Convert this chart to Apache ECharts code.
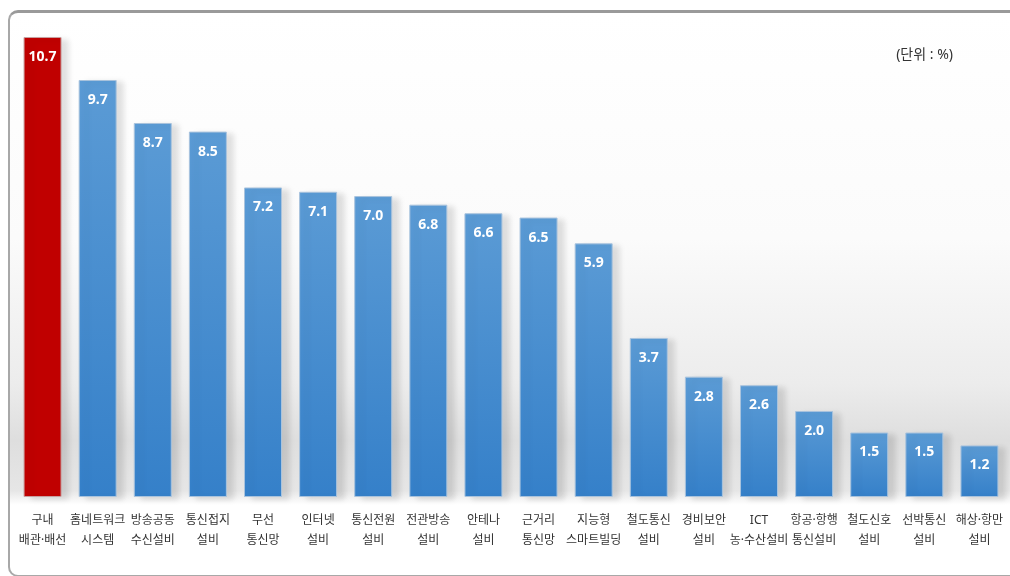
<!DOCTYPE html>
<html>
<head>
<meta charset="utf-8">
<script src="https://cdn.jsdelivr.net/npm/echarts@6/dist/echarts.min.js"></script>
<style>
  html, body { margin: 0; padding: 0; background: #fff; }
  .frame {
    position: absolute;
    left: 8px; top: 10px;
    width: 1010px; height: 562px;
    border: 2px solid #a8a8a8;
    border-top: 3px solid #9a9a9a;
    border-radius: 10px;
    background: linear-gradient(to bottom, #ffffff 0%, #fbfbfb 40%, #ececec 66%, #dedede 76%, #e6e6e6 85%, #ffffff 87.5%, #ffffff 100%);
  }
  #chart { position: absolute; left: 0; top: 0; width: 1010px; height: 576px; }
</style>
</head>
<body>
<div class="frame"></div>
<div id="chart"></div>
<script>
  // 분야별 비율 (단위 : %)
  const categories = [
    '구내\n배관·배선', '홈네트워크\n시스템', '방송공동\n수신설비', '통신접지\n설비',
    '무선\n통신망', '인터넷\n설비', '통신전원\n설비', '전관방송\n설비',
    '안테나\n설비', '근거리\n통신망', '지능형\n스마트빌딩', '철도통신\n설비',
    '경비보안\n설비', 'ICT\n농·수산설비', '항공·항행\n통신설비', '철도신호\n설비',
    '선박통신\n설비', '해상·항만\n설비'
  ];
  const values = [10.7, 9.7, 8.7, 8.5, 7.2, 7.1, 7.0, 6.8, 6.6, 6.5, 5.9, 3.7, 2.8, 2.6, 2.0, 1.5, 1.5, 1.2];
  const highlightIndex = 0;

  const blue = new echarts.graphic.LinearGradient(0, 0, 0, 1, [
    { offset: 0, color: '#5b9bd5' },
    { offset: 1, color: '#3580c9' }
  ]);

  const chart = echarts.init(document.getElementById('chart'));
  chart.setOption({
    animation: false,
    grid: { left: 15, right: 3, top: 37, bottom: 79 },
    graphic: [{
      type: 'text',
      right: 57,
      top: 48,
      style: { text: '(단위 : %)', fontSize: 14, fill: '#333', fontFamily: 'Noto Sans, Noto Sans CJK KR' }
    }],
    xAxis: {
      type: 'category',
      data: categories,
      axisLine: { show: false },
      axisTick: { show: false },
      axisLabel: {
        interval: 0,
        margin: 14,
        fontSize: 12,
        lineHeight: 20,
        color: '#333',
        fontFamily: 'Noto Sans, Noto Sans CJK KR'
      }
    },
    yAxis: {
      type: 'value',
      min: 0,
      max: 10.7,
      show: false,
      splitLine: { show: false }
    },
    series: [{
      type: 'bar',
      barWidth: 38,
      data: values.map((v, i) => ({
        value: v,
        itemStyle: i === highlightIndex
          ? { color: '#c00000', borderColor: '#c8a0a0' }
          : { color: blue, borderColor: '#a9c3dd' }
      })),
      itemStyle: {
        borderWidth: 1,
        shadowColor: 'rgba(0,0,0,0.12)',
        shadowBlur: 6,
        shadowOffsetX: 7,
        shadowOffsetY: 2
      },
      label: {
        show: true,
        position: 'insideTop',
        distance: 13,
        formatter: (p) => p.value.toFixed(1),
        color: '#fff',
        fontWeight: 'bold',
        fontSize: 14,
        fontFamily: 'Noto Sans'
      }
    }]
  });
</script>
</body>
</html>
